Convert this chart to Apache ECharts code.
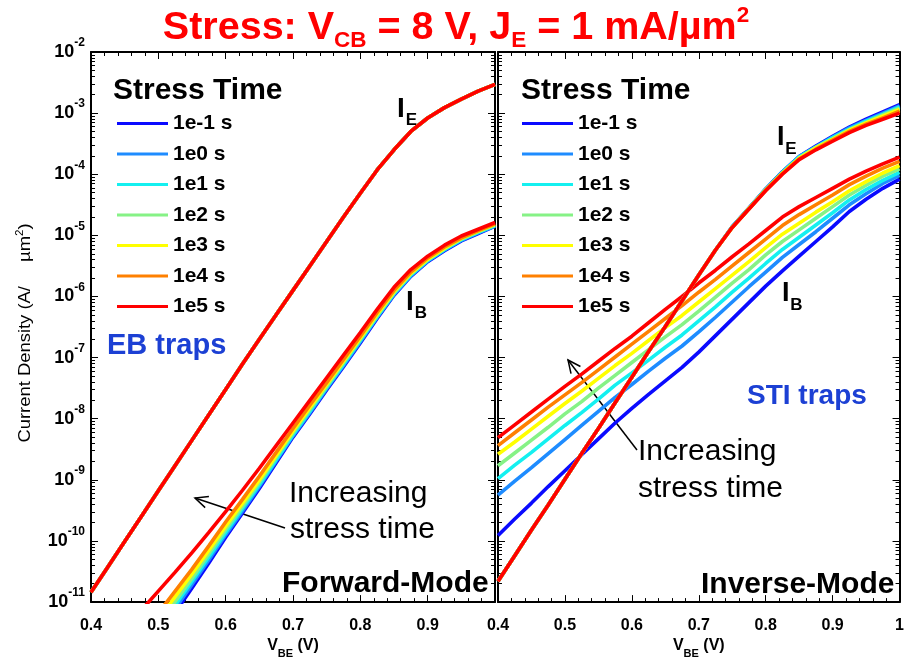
<!DOCTYPE html>
<html>
<head>
<meta charset="utf-8">
<script src="https://cdn.jsdelivr.net/npm/echarts@6/dist/echarts.min.js"></script>
<style>
  html, body { margin: 0; padding: 0; background: #ffffff; }
  #chart { width: 907px; height: 664px; }
</style>
</head>
<body>
<div id="chart"></div>
<script>
// ---- data: V_BE sweep and current densities, stored as log10(J) in A/µm² ----
const stressTimes = ['1e-1 s', '1e0 s', '1e1 s', '1e2 s', '1e3 s', '1e4 s', '1e5 s'];
const stressColors = ['#0a0aff', '#1e8cff', '#14f0f0', '#86f286', '#ffff00', '#ff8000', '#ff0000'];

const vbe = [0.400, 0.425, 0.450, 0.475, 0.500, 0.525, 0.550, 0.575, 0.600, 0.625, 0.650, 0.675, 0.700,
             0.725, 0.750, 0.775, 0.800, 0.825, 0.850, 0.875, 0.900, 0.925, 0.950, 0.975, 1.000];

// Forward mode, emitter current (identical for all stress times)
const fwdIE = [-10.84, -10.425, -10.01, -9.595, -9.18, -8.765, -8.35, -7.935, -7.52, -7.105, -6.70, -6.30, -5.90,
               -5.50, -5.10, -4.70, -4.31, -3.93, -3.60, -3.30, -3.08, -2.91, -2.77, -2.64, -2.53];

// Forward mode, base current
const fwdIB_1em1 = [null, null, null, null, -11.55, -11.17, -10.77, -10.36, -9.94, -9.54, -9.14, -8.72, -8.30,
                    -7.92, -7.53, -7.15, -6.76, -6.36, -5.98, -5.67, -5.43, -5.25, -5.09, -4.97, -4.85];
const fwdIB_1e0  = [null, null, null, null, -11.49, -11.11, -10.71, -10.31, -9.90, -9.51, -9.11, -8.69, -8.28,
                    -7.90, -7.51, -7.13, -6.74, -6.34, -5.97, -5.66, -5.42, -5.24, -5.08, -4.96, -4.85];
const fwdIB_1e1  = [null, null, null, null, -11.43, -11.05, -10.66, -10.26, -9.86, -9.47, -9.08, -8.67, -8.26,
                    -7.88, -7.49, -7.11, -6.72, -6.33, -5.95, -5.65, -5.41, -5.23, -5.07, -4.95, -4.84];
const fwdIB_1e2  = [null, null, null, null, -11.36, -10.99, -10.61, -10.21, -9.81, -9.43, -9.04, -8.63, -8.23,
                    -7.85, -7.47, -7.08, -6.70, -6.31, -5.94, -5.63, -5.40, -5.22, -5.06, -4.94, -4.83];
const fwdIB_1e3  = [null, null, null, null, -11.28, -10.91, -10.54, -10.15, -9.76, -9.38, -9.00, -8.60, -8.20,
                    -7.82, -7.44, -7.06, -6.68, -6.29, -5.92, -5.62, -5.39, -5.21, -5.05, -4.93, -4.82];
const fwdIB_1e4  = [null, null, null, null, -11.18, -10.82, -10.46, -10.08, -9.69, -9.32, -8.94, -8.55, -8.16,
                    -7.78, -7.41, -7.03, -6.65, -6.26, -5.90, -5.60, -5.37, -5.19, -5.04, -4.92, -4.81];
const fwdIB_1e5  = [null, null, null, -11.13, -10.82, -10.51, -10.19, -9.86, -9.52, -9.17, -8.81, -8.44, -8.07,
                    -7.70, -7.33, -6.96, -6.59, -6.21, -5.85, -5.56, -5.34, -5.16, -5.01, -4.90, -4.79];

// Inverse mode, emitter current
const invIE_1em1 = [-10.66, -10.24, -9.82, -9.41, -8.99, -8.57, -8.16, -7.74, -7.32, -6.90, -6.49, -6.07, -5.65,
                    -5.24, -4.86, -4.55, -4.24, -3.96, -3.71, -3.54, -3.38, -3.23, -3.10, -2.98, -2.86];
const invIE_1e0  = [-10.66, -10.24, -9.82, -9.41, -8.99, -8.57, -8.16, -7.74, -7.32, -6.90, -6.49, -6.07, -5.65,
                    -5.24, -4.86, -4.56, -4.24, -3.96, -3.71, -3.55, -3.39, -3.24, -3.12, -3.00, -2.88];
const invIE_1e1  = [-10.66, -10.24, -9.82, -9.41, -8.99, -8.57, -8.16, -7.74, -7.32, -6.90, -6.49, -6.07, -5.65,
                    -5.24, -4.86, -4.56, -4.25, -3.97, -3.72, -3.56, -3.40, -3.26, -3.13, -3.02, -2.90];
const invIE_1e2  = [-10.66, -10.24, -9.82, -9.41, -8.99, -8.57, -8.16, -7.74, -7.32, -6.90, -6.49, -6.07, -5.65,
                    -5.24, -4.87, -4.56, -4.25, -3.98, -3.73, -3.56, -3.42, -3.27, -3.15, -3.03, -2.92];
const invIE_1e3  = [-10.66, -10.24, -9.82, -9.41, -8.99, -8.57, -8.16, -7.74, -7.32, -6.90, -6.49, -6.07, -5.65,
                    -5.24, -4.87, -4.56, -4.26, -3.98, -3.74, -3.57, -3.43, -3.28, -3.16, -3.05, -2.94];
const invIE_1e4  = [-10.66, -10.24, -9.82, -9.41, -8.99, -8.57, -8.16, -7.74, -7.32, -6.90, -6.49, -6.07, -5.65,
                    -5.24, -4.87, -4.57, -4.26, -3.99, -3.75, -3.59, -3.44, -3.30, -3.18, -3.08, -2.97];
const invIE_1e5  = [-10.66, -10.24, -9.82, -9.41, -8.99, -8.57, -8.16, -7.74, -7.32, -6.90, -6.49, -6.07, -5.65,
                    -5.24, -4.87, -4.57, -4.27, -4.00, -3.76, -3.60, -3.46, -3.32, -3.20, -3.10, -3.00];

// Inverse mode, base current
const invIB_1em1 = [-9.91, -9.64, -9.38, -9.11, -8.85, -8.59, -8.33, -8.07, -7.83, -7.60, -7.38, -7.16, -6.91,
                    -6.64, -6.37, -6.10, -5.83, -5.58, -5.34, -5.10, -4.86, -4.61, -4.41, -4.23, -4.08];
const invIB_1e0  = [-9.25, -9.02, -8.80, -8.57, -8.34, -8.11, -7.88, -7.65, -7.44, -7.22, -7.01, -6.81, -6.58,
                    -6.34, -6.09, -5.84, -5.60, -5.36, -5.15, -4.94, -4.72, -4.50, -4.32, -4.15, -4.02];
const invIB_1e1  = [-8.98, -8.76, -8.55, -8.33, -8.11, -7.90, -7.68, -7.45, -7.25, -7.04, -6.83, -6.63, -6.40,
                    -6.17, -5.93, -5.70, -5.46, -5.23, -5.03, -4.83, -4.63, -4.42, -4.25, -4.10, -3.97];
const invIB_1e2  = [-8.77, -8.56, -8.35, -8.14, -7.92, -7.72, -7.50, -7.29, -7.08, -6.87, -6.66, -6.46, -6.24,
                    -6.01, -5.78, -5.56, -5.32, -5.10, -4.91, -4.72, -4.53, -4.34, -4.18, -4.03, -3.91];
const invIB_1e3  = [-8.58, -8.38, -8.17, -7.96, -7.75, -7.55, -7.34, -7.13, -6.93, -6.72, -6.51, -6.31, -6.09,
                    -5.87, -5.65, -5.43, -5.20, -4.98, -4.80, -4.62, -4.45, -4.27, -4.12, -3.98, -3.86];
const invIB_1e4  = [-8.44, -8.23, -8.02, -7.81, -7.61, -7.41, -7.20, -6.99, -6.78, -6.57, -6.36, -6.15, -5.93,
                    -5.72, -5.50, -5.28, -5.06, -4.84, -4.66, -4.50, -4.34, -4.17, -4.03, -3.90, -3.79];
const invIB_1e5  = [-8.31, -8.10, -7.89, -7.68, -7.47, -7.27, -7.06, -6.85, -6.65, -6.43, -6.21, -6.00, -5.78,
                    -5.57, -5.35, -5.14, -4.92, -4.70, -4.53, -4.38, -4.23, -4.08, -3.95, -3.83, -3.72];

// axis ranges
const vMin = 0.4, vMax = 1.0, vStep = 0.1;
const jMin = 1e-11, jMax = 1e-2;
const decadeExps = [-11, -10, -9, -8, -7, -6, -5, -4, -3];

// ---- helpers ----
const FONT = 'Liberation Sans, Arial, sans-serif';

function toPoints(logArr) {
  const pts = [];
  logArr.forEach((e, i) => { if (e !== null) pts.push([vbe[i], Math.pow(10, e)]); });
  return pts;
}

// 2..9 sub-decade tick positions for the log axes
const minorTickValues = [];
decadeExps.forEach(d => { for (let k = 2; k <= 9; k++) minorTickValues.push(Number(k + 'e' + d)); });

function xAxes(gridIndex, showLabels, hideMax) {
  const common = {
    type: 'value', gridIndex, min: vMin, max: vMax, interval: vStep,
    axisLine: { show: true, onZero: false, lineStyle: { color: '#000', width: 2 } },
    axisTick: { show: true, inside: true, length: 7, lineStyle: { color: '#000', width: 1 } },
    minorTick: { show: true, splitNumber: 5, length: 4, lineStyle: { color: '#000', width: 1 } },
    splitLine: { show: false }
  };
  return [
    Object.assign({}, common, {
      position: 'bottom',
      axisLabel: { show: showLabels, margin: 15, fontSize: 16, fontWeight: 'bold', color: '#000',
                   fontFamily: FONT, showMaxLabel: !hideMax },
      name: '{v|V}{s|BE}{v| (V)}',
      nameLocation: 'middle', nameGap: 24,
      nameTextStyle: {
        rich: {
          v: { fontSize: 16, fontWeight: 'bold', fontFamily: FONT, color: '#000', lineHeight: 26 },
          s: { fontSize: 11, fontWeight: 'bold', fontFamily: FONT, color: '#000', lineHeight: 8, verticalAlign: 'bottom' }
        }
      }
    }),
    Object.assign({}, common, { position: 'top', axisLabel: { show: false } })
  ];
}

function yAxes(gridIndex, withLabels) {
  const common = {
    type: 'log', logBase: 10, gridIndex, min: jMin, max: jMax, interval: 1,
    splitLine: { show: false }, minorTick: { show: false }
  };
  const main = Object.assign({}, common, {
    axisLine: { show: true, onZero: false, lineStyle: { color: '#000', width: 2 } },
    axisTick: { show: true, inside: true, length: 7, lineStyle: { color: '#000', width: 1 } }
  });
  const minor = Object.assign({}, common, {
    axisLine: { show: false },
    axisTick: { show: true, inside: true, length: 4, customValues: minorTickValues, lineStyle: { color: '#000', width: 1 } },
    axisLabel: { show: false }
  });
  const left = Object.assign({}, main, { position: 'left' });
  if (withLabels) {
    left.axisLabel = {
      show: true, margin: 6,
      formatter: v => '{b|10}{s|' + Math.round(Math.log10(v)) + '}',
      rich: {
        b: { fontSize: 18, fontWeight: 'bold', fontFamily: FONT, color: '#000', lineHeight: 30 },
        s: { fontSize: 12, fontWeight: 'bold', fontFamily: FONT, color: '#000', lineHeight: 8, verticalAlign: 'top' }
      }
    };
  } else {
    left.axisLabel = { show: false };
  }
  const right = Object.assign({}, main, { position: 'right', axisLabel: { show: false } });
  return [left, right,
          Object.assign({}, minor, { position: 'left' }),
          Object.assign({}, minor, { position: 'right' })];
}

function lineSeries(name, color, logArr, xi, yi) {
  return {
    type: 'line', name, xAxisIndex: xi, yAxisIndex: yi,
    data: toPoints(logArr), showSymbol: false, symbol: 'none', clip: true,
    color, lineStyle: { color, width: 3.6 }, itemStyle: { color },
    emphasis: { disabled: true }, animation: false
  };
}

const fwdIB = [fwdIB_1em1, fwdIB_1e0, fwdIB_1e1, fwdIB_1e2, fwdIB_1e3, fwdIB_1e4, fwdIB_1e5];
const invIE = [invIE_1em1, invIE_1e0, invIE_1e1, invIE_1e2, invIE_1e3, invIE_1e4, invIE_1e5];
const invIB = [invIB_1em1, invIB_1e0, invIB_1e1, invIB_1e2, invIB_1e3, invIB_1e4, invIB_1e5];

const series = [];
stressTimes.forEach((t, k) => series.push(lineSeries(t, stressColors[k], fwdIB[k], 0, 0)));
stressTimes.forEach((t, k) => series.push(lineSeries(t, stressColors[k], fwdIE, 0, 0)));
stressTimes.forEach((t, k) => series.push(lineSeries(t, stressColors[k], invIB[k], 2, 4)));
stressTimes.forEach((t, k) => series.push(lineSeries(t, stressColors[k], invIE[k], 2, 4)));

// ---- annotation helpers ----
function label(text, x, y, size, opts) {
  return {
    type: 'text', x, y, silent: true,
    style: Object.assign({ text, fontSize: size, fontWeight: 'bold', fontFamily: FONT, fill: '#000',
                           textAlign: 'left', textVerticalAlign: 'middle' }, opts || {})
  };
}
function currentLabel(main, sub, x, y, size) {
  return [label(main, x, y, size), label(sub, x + size * 0.31, y + 11, 17)];
}
function arrow(tail, tip) {
  const dx = tail[0] - tip[0], dy = tail[1] - tip[1];
  const len = Math.hypot(dx, dy), ux = dx / len, uy = dy / len;
  const a = 25 * Math.PI / 180, h = 14;
  const w1 = [tip[0] + h * (ux * Math.cos(a) - uy * Math.sin(a)), tip[1] + h * (ux * Math.sin(a) + uy * Math.cos(a))];
  const w2 = [tip[0] + h * (ux * Math.cos(a) + uy * Math.sin(a)), tip[1] + h * (-ux * Math.sin(a) + uy * Math.cos(a))];
  const st = { stroke: '#000', lineWidth: 1.5, fill: null };
  return [
    { type: 'polyline', silent: true, shape: { points: [tail, tip] }, style: st },
    { type: 'polyline', silent: true, shape: { points: [w1, tip, w2] }, style: st }
  ];
}

const trapBlue = '#1c40d4';
const graphics = [
  {
    type: 'text', x: 456, y: 4, silent: true,
    style: {
      text: '{a|Stress: V}{sub|CB}{a| = 8 V, J}{sub|E}{a| = 1 mA/µm}{sup|2}',
      textAlign: 'center', textVerticalAlign: 'top',
      rich: {
        a: { fontSize: 39.5, fontWeight: 'bold', fontFamily: FONT, fill: '#ff0000', lineHeight: 48 },
        sub: { fontSize: 22.5, fontWeight: 'bold', fontFamily: FONT, fill: '#ff0000', lineHeight: 14, verticalAlign: 'bottom' },
        sup: { fontSize: 22.5, fontWeight: 'bold', fontFamily: FONT, fill: '#ff0000', lineHeight: 32, verticalAlign: 'top' }
      }
    }
  },
  // vertical axis title, read bottom to top
  {
    type: 'text', x: 26, y: 333, rotation: Math.PI / 2, scaleX: 1.15, silent: true,
    style: {
      text: '{n|Current Density (A/}{g| }{n|µm}{p|2}{n|)}',
      textAlign: 'center', textVerticalAlign: 'middle',
      rich: {
        n: { fontSize: 16, fontFamily: FONT, fill: '#000', lineHeight: 22 },
        g: { fontSize: 16, width: 21, lineHeight: 22 },
        p: { fontSize: 10, fontFamily: FONT, fill: '#000', lineHeight: 8, verticalAlign: 'top' }
      }
    }
  },
  label('Stress Time', 113, 91, 30),
  label('Stress Time', 521, 91, 30),
  label('EB traps', 107, 346, 29, { fill: trapBlue }),
  label('STI traps', 747, 396, 28, { fill: trapBlue }),
  label('Forward-Mode', 282, 584, 30),
  label('Inverse-Mode', 701, 585, 30),
  label('Increasing', 289, 494, 30, { fontWeight: 'normal' }),
  label('stress time', 290, 530, 30, { fontWeight: 'normal' }),
  label('Increasing', 638, 452, 30, { fontWeight: 'normal' }),
  label('stress time', 638, 489, 30, { fontWeight: 'normal' })
]
  .concat(currentLabel('I', 'E', 397, 109, 28))
  .concat(currentLabel('I', 'B', 406, 302, 28))
  .concat(currentLabel('I', 'E', 777, 138, 27))
  .concat(currentLabel('I', 'B', 782, 294, 27))
  .concat(arrow([285, 528], [195, 498]))
  .concat(arrow([637, 450], [568, 360]));

const legendCommon = {
  orient: 'vertical', top: 113, padding: 0, itemGap: 9.5,
  itemWidth: 51, itemHeight: 3, icon: 'rect', selectedMode: false,
  data: stressTimes,
  textStyle: { fontFamily: FONT, fontWeight: 'bold', fontSize: 21, lineHeight: 20, color: '#000' }
};

const option = {
  backgroundColor: '#ffffff',
  animation: false,
  grid: [
    { left: 91, top: 52, width: 404, height: 555 },
    { left: 498, top: 52, width: 402, height: 555 }
  ],
  xAxis: xAxes(0, true, true).concat(xAxes(1, true, false)),
  yAxis: yAxes(0, true).concat(yAxes(1, false)),
  legend: [
    Object.assign({}, legendCommon, { left: 117 }),
    Object.assign({}, legendCommon, { left: 522 })
  ],
  series,
  graphic: graphics
};

const chart = echarts.init(document.getElementById('chart'), null, { renderer: 'canvas' });
chart.setOption(option);
</script>
</body>
</html>
